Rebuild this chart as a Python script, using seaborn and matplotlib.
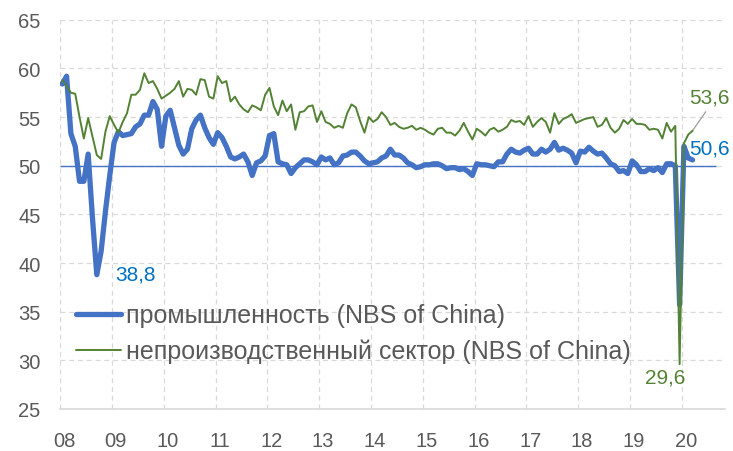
import numpy as np
import pandas as pd
import matplotlib.pyplot as plt
import matplotlib.transforms as mtransforms
import seaborn as sns

# monthly PMI, Mar 2008 .. May 2020
year_labels = ['08', '09', '10', '11', '12', '13', '14', '15', '16', '17', '18', '19', '20']

manuf = [58.4, 59.2, 53.3, 52.0, 48.4, 48.4, 51.2, 44.6, 38.8, 41.2,
         45.3, 49.0, 52.4, 53.5, 53.1, 53.2, 53.3, 54.0, 54.3, 55.2, 55.2, 56.6,
         55.8, 52.0, 55.1, 55.7, 53.9, 52.1, 51.2, 51.7, 53.8, 54.7, 55.2, 53.9,
         52.9, 52.2, 53.4, 52.9, 52.0, 50.9, 50.7, 50.9, 51.2, 50.4, 49.0, 50.3,
         50.5, 51.0, 53.1, 53.3, 50.4, 50.2, 50.1, 49.2, 49.8, 50.2, 50.6, 50.6,
         50.4, 50.1, 50.9, 50.6, 50.8, 50.1, 50.3, 51.0, 51.1, 51.4, 51.4, 51.0,
         50.5, 50.2, 50.3, 50.4, 50.8, 51.0, 51.7, 51.1, 51.1, 50.8, 50.3, 50.1,
         49.8, 49.9, 50.1, 50.1, 50.2, 50.2, 50.0, 49.7, 49.8, 49.8, 49.6, 49.7,
         49.4, 49.0, 50.2, 50.1, 50.1, 50.0, 49.9, 50.4, 50.4, 51.2, 51.7, 51.4,
         51.3, 51.6, 51.8, 51.2, 51.2, 51.7, 51.4, 51.7, 52.4, 51.6, 51.8, 51.6,
         51.3, 50.3, 51.5, 51.4, 51.9, 51.5, 51.2, 51.3, 50.8, 50.2, 50.0, 49.4,
         49.5, 49.2, 50.5, 50.1, 49.4, 49.4, 49.7, 49.5, 49.8, 49.3, 50.2, 50.2,
         50.0, 35.7, 52.0, 50.8, 50.6]

nonmanuf = [58.8, 58.2, 57.5, 57.4, 55.0, 52.8, 54.9, 53.0, 51.1, 50.7,
            53.5, 55.1, 54.2, 53.4, 54.5, 55.4, 57.3, 57.3, 57.8, 59.5, 58.5, 58.7,
            57.9, 56.9, 57.2, 57.5, 57.9, 58.7, 57.1, 57.9, 57.8, 57.3, 58.9, 58.8,
            57.1, 56.9, 59.2, 58.5, 58.7, 56.6, 57.1, 56.3, 55.8, 55.5, 56.2, 56.0,
            55.7, 57.3, 58.0, 56.1, 55.2, 56.7, 55.6, 56.3, 53.7, 55.5, 55.6, 56.1,
            56.2, 54.5, 55.6, 54.5, 54.3, 53.9, 54.1, 53.9, 55.4, 56.3, 56.0, 54.6,
            53.4, 55.0, 54.5, 54.8, 55.5, 55.0, 54.2, 54.4, 54.0, 53.8, 53.9, 54.1,
            53.7, 53.9, 53.7, 53.4, 53.2, 53.8, 53.9, 53.4, 53.4, 53.1, 53.6, 54.4,
            53.5, 52.7, 53.8, 53.5, 53.1, 53.7, 53.9, 53.5, 53.7, 54.0, 54.7, 54.5,
            54.6, 54.2, 55.1, 54.0, 54.5, 54.9, 54.5, 53.4, 55.4, 54.3, 54.8, 55.0,
            55.3, 54.4, 54.6, 54.8, 54.9, 55.0, 54.0, 54.2, 54.9, 53.9, 53.4, 53.8,
            54.7, 54.3, 54.8, 54.3, 54.3, 54.2, 53.7, 53.8, 53.7, 52.8, 54.4, 53.5,
            54.1, 29.6, 52.3, 53.2, 53.6]

n_months = 154  # axis runs to Dec 2020

df = pd.DataFrame({'t': np.arange(len(manuf)), 'manuf': manuf, 'nonmanuf': nonmanuf})

blue = '#4472C4'
green = '#548235'
grey_txt = '#595959'

sns.set_style('white')
plt.rcParams['font.family'] = ['Liberation Sans', 'DejaVu Sans']

fig = plt.figure(figsize=(7.33, 4.52), dpi=100)
ax = fig.add_axes([0.082, 0.093, 0.907, 0.861])

ax.hlines(50, -0.5, 151.5, color=blue, lw=1, zorder=2)
sns.lineplot(data=df, x='t', y='manuf', color=blue, lw=3.8, ax=ax, zorder=3,
             label='промышленность (NBS of China)')
sns.lineplot(data=df, x='t', y='nonmanuf', color=green, lw=1.4, ax=ax, zorder=4,
             label='непроизводственный сектор (NBS of China)')

ax.set_xlim(-0.5, n_months - 0.5)
ax.set_ylim(25, 65)
ax.set_yticks(range(25, 66, 5))
ax.set_xticks(np.arange(0, n_months, 12) - 0.5)
ax.set_xticklabels(year_labels)
ax.set_xticks(np.arange(0, n_months + 1) - 0.5, minor=True)
ax.set_xlabel('')
ax.set_ylabel('')

ax.grid(True, which='major', color='#D9D9D9', ls=(0, (4, 3)), lw=0.9)
ax.set_axisbelow(True)
for s in ['top', 'right', 'left']:
    ax.spines[s].set_visible(False)
ax.spines['bottom'].set_color('#D9D9D9')
ax.spines['bottom'].set_linewidth(1.2)

ax.tick_params(axis='y', length=0, pad=14, labelsize=14.5, labelcolor=grey_txt)
ax.tick_params(axis='x', which='major', direction='inout', length=8, color='#D9D9D9',
               pad=12, labelsize=14.5, labelcolor=grey_txt)
ax.tick_params(axis='x', which='minor', direction='in', length=4, color='#D9D9D9')
shift = mtransforms.ScaledTranslation(4 / 100, 0, fig.dpi_scale_trans)
for lab in ax.get_xticklabels():
    lab.set_transform(lab.get_transform() + shift)

h, l = ax.get_legend_handles_labels()
ax.legend(h, l, loc='upper left', bbox_to_anchor=(53 / 733, 1 - 282 / 452),
          bbox_transform=fig.transFigure, frameon=False, fontsize=18,
          handlelength=1.8, handletextpad=0.2, labelspacing=0.45, labelcolor=grey_txt)

# data labels
ax.annotate('38,8', xy=(8, 38.8), xytext=(18, 1), textcoords='offset pixels',
            ha='left', va='center', color='#0070C0', fontsize=15)
ax.annotate('50,6', xy=(146, 50.6), xytext=(-3, 12), textcoords='offset pixels',
            ha='left', va='center', color='#0070C0', fontsize=15)
ax.annotate('29,6', xy=(143, 29.6), xytext=(-14, -13), textcoords='offset pixels',
            ha='center', va='center', color=green, fontsize=15)
ax.annotate('53,6', xy=(146, 53.6), xytext=(17, 34), textcoords='offset pixels',
            ha='center', va='center', color=green, fontsize=15,
            arrowprops=dict(arrowstyle='-', color='#A6A6A6', lw=1,
                            shrinkA=2, shrinkB=0, relpos=(0.5, 0)))

fig.savefig('out.png', dpi=100)
